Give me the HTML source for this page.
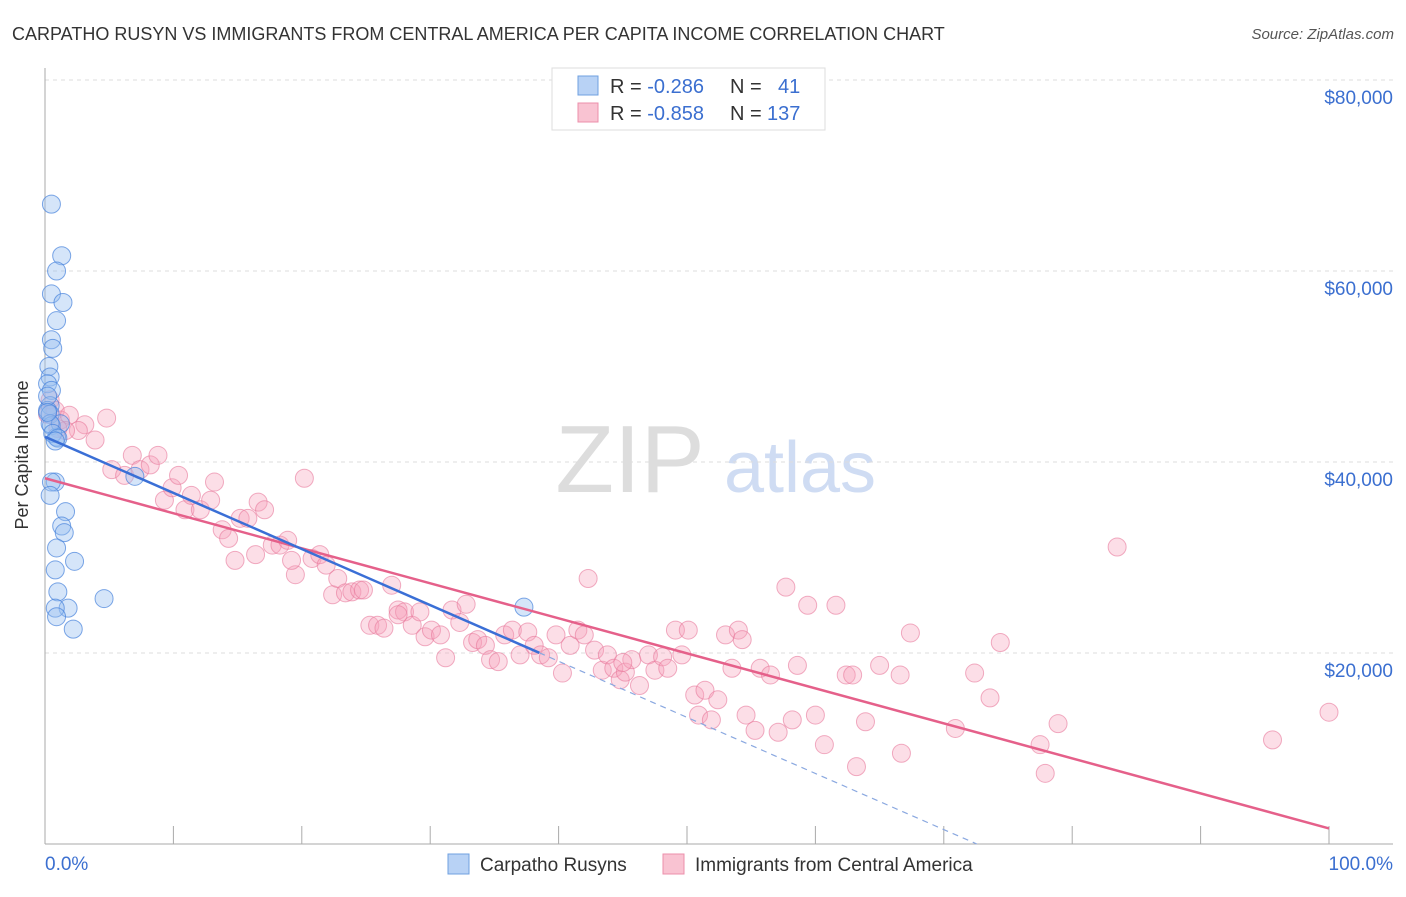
<!DOCTYPE html>
<html><head><meta charset="utf-8"><style>
body{margin:0;background:#fff;font-family:"Liberation Sans",sans-serif;}
svg text{font-family:"Liberation Sans",sans-serif;}
</style></head><body>
<svg id="c" width="1406" height="892" xmlns="http://www.w3.org/2000/svg">
<text x="12" y="40" font-size="18" fill="#333">CARPATHO RUSYN VS IMMIGRANTS FROM CENTRAL AMERICA PER CAPITA INCOME CORRELATION CHART</text>
<text x="1394" y="39" font-size="15" fill="#555" font-style="italic" text-anchor="end">Source: ZipAtlas.com</text>
<text x="630" y="492" font-size="96" fill="#ddd" font-family="Liberation Serif" text-anchor="middle">ZIP</text>
<text x="800" y="492" font-size="72" fill="#cfdcf3" text-anchor="middle">atlas</text>
<g id="grid"></g>
<g id="axes"></g>
<g id="pink"></g>
<g id="blue"></g>
<g id="lines"></g>
<text x="28" y="455" font-size="18" fill="#333" text-anchor="middle" transform="rotate(-90 28 455)">Per Capita Income</text>
<g>
<rect x="552" y="68" width="273" height="62" fill="#fff" stroke="#ddd"/>
<rect x="578" y="76" width="20" height="19" fill="#b8d2f5" stroke="#6fa0e0"/>
<rect x="578" y="103" width="20" height="19" fill="#f9c3d2" stroke="#ec8fab"/>
<text x="610" y="93" font-size="20" fill="#333">R = <tspan fill="#3b6fd0">-0.286</tspan><tspan x="730">N = </tspan><tspan x="778" fill="#3b6fd0">41</tspan></text>
<text x="610" y="120" font-size="20" fill="#333">R = <tspan fill="#3b6fd0">-0.858</tspan><tspan x="730">N = </tspan><tspan x="767" fill="#3b6fd0">137</tspan></text>
</g>
<g>
<rect x="448" y="854" width="21" height="20" fill="#b8d2f5" stroke="#6fa0e0"/>
<text x="480" y="871" font-size="19" fill="#333">Carpatho Rusyns</text>
<rect x="663" y="854" width="21" height="20" fill="#f9c3d2" stroke="#ec8fab"/>
<text x="695" y="871" font-size="19" fill="#333">Immigrants from Central America</text>
</g>
</svg>
<script>
const yTicks=[20000,40000,60000,80000];
const yTickLabels=["$20,000","$40,000","$60,000","$80,000"];
const blueX=[0.5,1.3,0.9,0.5,1.4,0.9,0.5,0.6,0.3,0.4,0.2,0.5,0.4,0.2,0.4,0.5,0.9,0.8,0.5,0.4,1.6,1.3,1.5,0.9,0.8,2.3,1.0,1.8,0.8,0.9,2.2,4.6,37.3,7.0,1.2,0.2,0.4,0.6,1.0,0.2,0.8];
const blueY=[67000,61600,60000,57600,56700,54800,52800,51900,50000,48900,48200,47500,45900,45400,45000,43800,42600,37900,37900,36500,34800,33300,32600,31000,28700,29600,26400,24700,24700,23800,22500,25700,24800,38500,44000,46900,44000,43000,42500,45200,42200];
const pinkX=[0.4,0.8,1.2,1.9,3.1,3.9,4.8,2.6,1.6,5.2,
6.2,6.8,7.4,8.2,8.8,9.3,9.9,10.4,10.9,11.4,
12.1,12.9,13.2,13.8,14.3,14.8,15.2,15.8,16.6,17.1,
16.4,17.7,18.3,18.9,19.5,19.2,20.2,20.8,21.4,21.9,
22.4,22.8,23.4,23.9,24.5,24.8,25.3,25.9,26.4,27.0,
27.5,28.0,28.6,29.2,29.6,30.1,30.8,31.2,31.7,32.3,
32.8,33.3,33.7,34.3,34.7,35.3,35.8,36.4,37.0,37.6,
38.1,38.6,39.2,39.8,40.3,40.9,41.5,42.0,42.3,42.8,
43.4,43.8,44.3,44.8,45.2,45.7,46.3,47.0,47.5,48.1,
48.5,49.1,49.6,50.1,50.6,50.9,51.4,51.9,52.4,53.0,
53.5,54.0,54.3,54.6,55.3,55.7,56.5,57.1,57.7,58.2,
58.6,59.4,60.0,60.7,61.6,62.4,62.9,63.2,63.9,65.0,
66.6,66.7,67.4,70.9,72.4,73.6,74.4,77.5,77.9,78.9,
83.5,95.6,100,0.2,1.0,45.0,27.5];
const pinkY=[46500,45400,44400,44900,43900,42300,44600,43300,43300,39200,
38600,40700,39200,39700,40700,36000,37300,38600,35000,36500,
35000,36000,37900,32900,32000,29700,34100,34100,35800,35000,
30300,31300,31300,31800,28200,29700,38300,29900,30300,29200,
26100,27800,26300,26400,26600,26600,22900,22900,22600,27100,
24500,24300,22900,24300,21700,22400,21900,19500,24500,23200,
25100,21100,21400,20800,19300,19100,21900,22400,19800,22200,
20800,19800,19500,21900,17900,20800,22400,21900,27800,20300,
18200,19800,18400,17200,18000,19300,16600,19800,18200,19600,
18400,22400,19800,22400,15600,13500,16100,13000,15100,21900,
18400,22400,21400,13500,11900,18400,17700,11700,26900,13000,
18700,25000,13500,10400,25000,17700,17700,8100,12800,18700,
17700,9500,22100,12100,17900,15300,21100,10400,7400,12600,
31100,10900,13800,45000,43500,19000,24000];
const X0=45,X1=1329,Y0=844,PXPER=191/20000;
const xs=p=>X0+(X1-X0)*p/100, ys=v=>Y0-v*PXPER;
const NS="http://www.w3.org/2000/svg";
function mk(t,a,parent){const e=document.createElementNS(NS,t);for(const k in a)e.setAttribute(k,a[k]);document.getElementById(parent).appendChild(e);return e;}
yTicks.forEach((v,i)=>{
 const l=mk('line',{x1:X0,x2:1393,y1:ys(v),y2:ys(v),stroke:'#ddd','stroke-dasharray':'4,4'},'grid');
 
 
 const t=mk('text',{x:1393,y:ys(v)+24,'font-size':19,fill:'#3b6fd0','text-anchor':'end'},'grid');
 t.textContent=yTickLabels[i];
 
 
});
const ya=mk('line',{x1:X0,x2:X0,y1:68,y2:Y0,stroke:'#aaa'},'axes');


const xa=mk('line',{x1:X0,x2:1393,y1:Y0,y2:Y0,stroke:'#aaa'},'axes');


for(let i=1;i<=10;i++){const t=mk('line',{x1:xs(i*10),x2:xs(i*10),y1:Y0-18,y2:Y0,stroke:'#aaa'},'axes');
 
 }
const xl0=mk('text',{x:45,y:870,'font-size':19,fill:'#3b6fd0'},'axes');xl0.textContent='0.0%';


const xl1=mk('text',{x:1393,y:870,'font-size':19,fill:'#3b6fd0','text-anchor':'end'},'axes');xl1.textContent='100.0%';


pinkX.forEach((p,i)=>{const c=mk('circle',{cx:xs(p),cy:ys(pinkY[i]),r:9,fill:'rgba(246,160,187,0.35)',stroke:'rgba(232,120,155,0.6)'},'pink');
 
 });
blueX.forEach((p,i)=>{const c=mk('circle',{cx:xs(p),cy:ys(blueY[i]),r:9,fill:'rgba(150,190,240,0.4)',stroke:'rgba(70,130,220,0.7)'},'blue');
 
 });
function fit(X,Y){const n=X.length;let mx=0,my=0;X.forEach((x,i)=>{mx+=x;my+=Y[i]});mx/=n;my/=n;let sxy=0,sxx=0;X.forEach((x,i)=>{sxy+=(x-mx)*(Y[i]-my);sxx+=(x-mx)**2});const b=sxy/sxx;return [my-b*mx,b];}
const [pa,pb]=fit(pinkX,pinkY);
const pl=mk('line',{x1:xs(0),y1:ys(pa),x2:xs(100),y2:ys(pa+pb*100),stroke:'#e5608a','stroke-width':2.5},'lines');


const [ba,bb]=fit(blueX,blueY);
const bxEnd=38.5, bxZero=-ba/bb;
const bl=mk('line',{x1:xs(0),y1:ys(ba),x2:xs(bxEnd),y2:ys(ba+bb*bxEnd),stroke:'#3a6fd6','stroke-width':2.5},'lines');


const bd=mk('line',{x1:xs(bxEnd),y1:ys(ba+bb*bxEnd),x2:xs(bxZero),y2:ys(0),stroke:'#8aa8e0','stroke-width':1.2,'stroke-dasharray':'6,5'},'lines');


</script>
</body></html>
